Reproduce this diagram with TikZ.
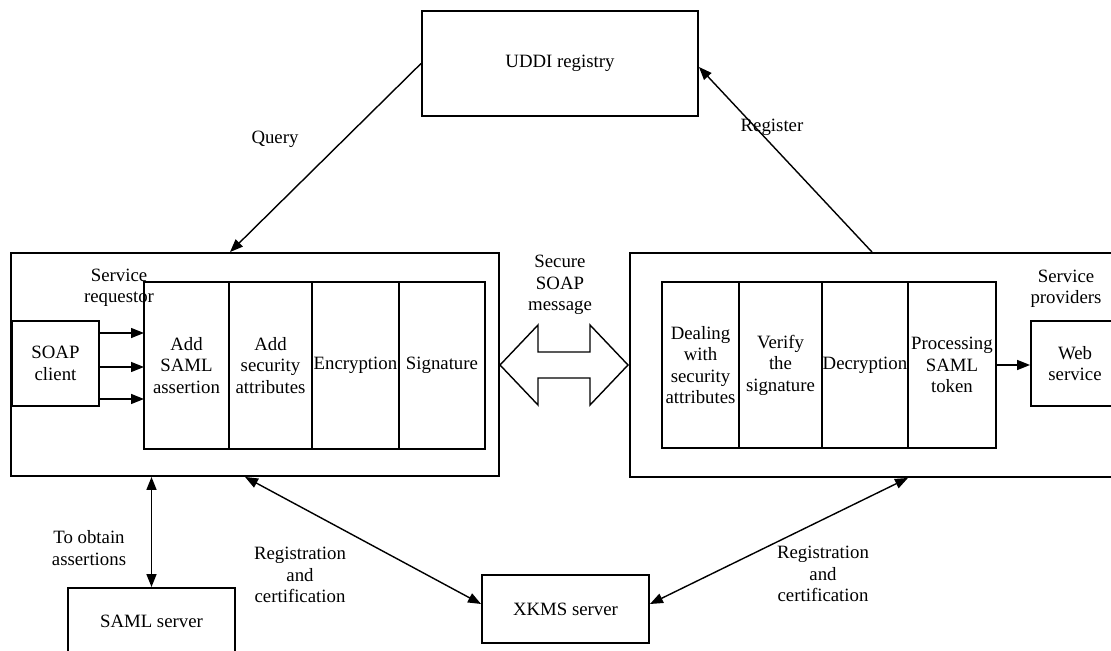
\documentclass[tikz,border=0pt]{standalone}
\usepackage{fontspec}
\setmainfont{Liberation Serif}
\usetikzlibrary{positioning,arrows.meta}

\begin{document}
\begin{tikzpicture}[x=0.02cm, y=-0.02cm,
	every node/.style={font=\fontsize{10.7}{12.2}\selectfont, align=center, inner sep=0pt},
	box/.style={draw, line width=1.1pt},
	cell/.style={box, outer sep=0pt, minimum height=3.34cm},
	link/.style={line width=0.8pt, -{Triangle[length=0.26cm,width=0.2cm]}},
	both/.style={line width=0.8pt, {Triangle[length=0.26cm,width=0.2cm]}-{Triangle[length=0.26cm,width=0.2cm]}}]

\useasboundingbox (0,0) rectangle (1111,651);
\clip (0,0) rectangle (1111,651);

% registry at the top
\node[box, minimum width=5.52cm, minimum height=2.1cm] (uddi) at (560,63.5) {UDDI registry};

% requestor side
\node[box, minimum width=9.76cm, minimum height=4.46cm] (req) at (255,364.5) {};
\node[box, minimum width=1.74cm, minimum height=1.7cm] (soap) at (55.5,363.5) {SOAP\\client};
\node[cell, minimum width=1.7cm] (a1) at (186.5,365.5) {Add\\SAML\\assertion};
\node[cell, minimum width=1.66cm, right=0pt of a1] (a2) {Add\\security\\attributes};
\node[cell, minimum width=1.74cm, right=0pt of a2] (a3) {Encryption};
\node[cell, minimum width=1.72cm, right=0pt of a3] (a4) {Signature};
\node at (119,287.5) {Service\\requestor};

% provider side
\node[box, minimum width=9.82cm, minimum height=4.48cm] (prov) at (875.5,365) {};
\node[cell, minimum width=1.54cm, minimum height=3.32cm] (b1) at (700.5,365) {Dealing\\with\\security\\attributes};
\node[cell, minimum width=1.66cm, minimum height=3.32cm, right=0pt of b1] (b2) {Verify\\the\\signature};
\node[cell, minimum width=1.72cm, minimum height=3.32cm, right=0pt of b2] (b3) {Decryption};
\node[cell, minimum width=1.76cm, minimum height=3.32cm, right=0pt of b3] (b4) {Processing\\SAML\\token};
\node[box, minimum width=1.76cm, minimum height=1.7cm] (web) at (1075,363.5) {Web\\service};
\node at (1066,289) {Service\\providers};

% servers at the bottom
\node[box, minimum width=3.34cm, minimum height=1.32cm] (saml) at (151.5,621) {SAML server};
\node[box, minimum width=3.34cm, minimum height=1.36cm] (xkms) at (565.5,609) {XKMS server};

% secure message between both sides
\draw[line width=0.8pt] (500,365) -- (538,325) -- (538,352) -- (590,352) -- (590,325) -- (628,365)
	-- (590,405) -- (590,378) -- (538,378) -- (538,405) -- cycle;
\node at (560,285) {Secure\\SOAP\\message};

% connectors
\foreach \s in {0.61,-0.07,-0.71}
	\draw[link] ([yshift=\s cm]soap.east) -- ([yshift=\s cm]soap.east -| a1.west);
\draw[link] (b4.east) -- (b4.east -| web.west);
\draw[link] (uddi.west) -- ([xshift=-0.5cm]req.north);
\draw[link] ([xshift=-0.07cm]prov.north) -- ([yshift=-0.07cm]uddi.east);
\draw[both] (saml.north |- req.south) -- (saml.north);
\draw[both] ([xshift=-0.2cm]req.south) -- ([yshift=0.1cm]xkms.west);
\draw[both] ([xshift=0.65cm]prov.south) -- ([yshift=0.1cm]xkms.east);

% labels
\node at (275,139) {Query};
\node at (772,127) {Register};
\node at (89,548) {To obtain\\assertions};
\node at (300,575) {Registration\\and\\certification};
\node at (823,574) {Registration\\and\\certification};
\end{tikzpicture}
\end{document}
